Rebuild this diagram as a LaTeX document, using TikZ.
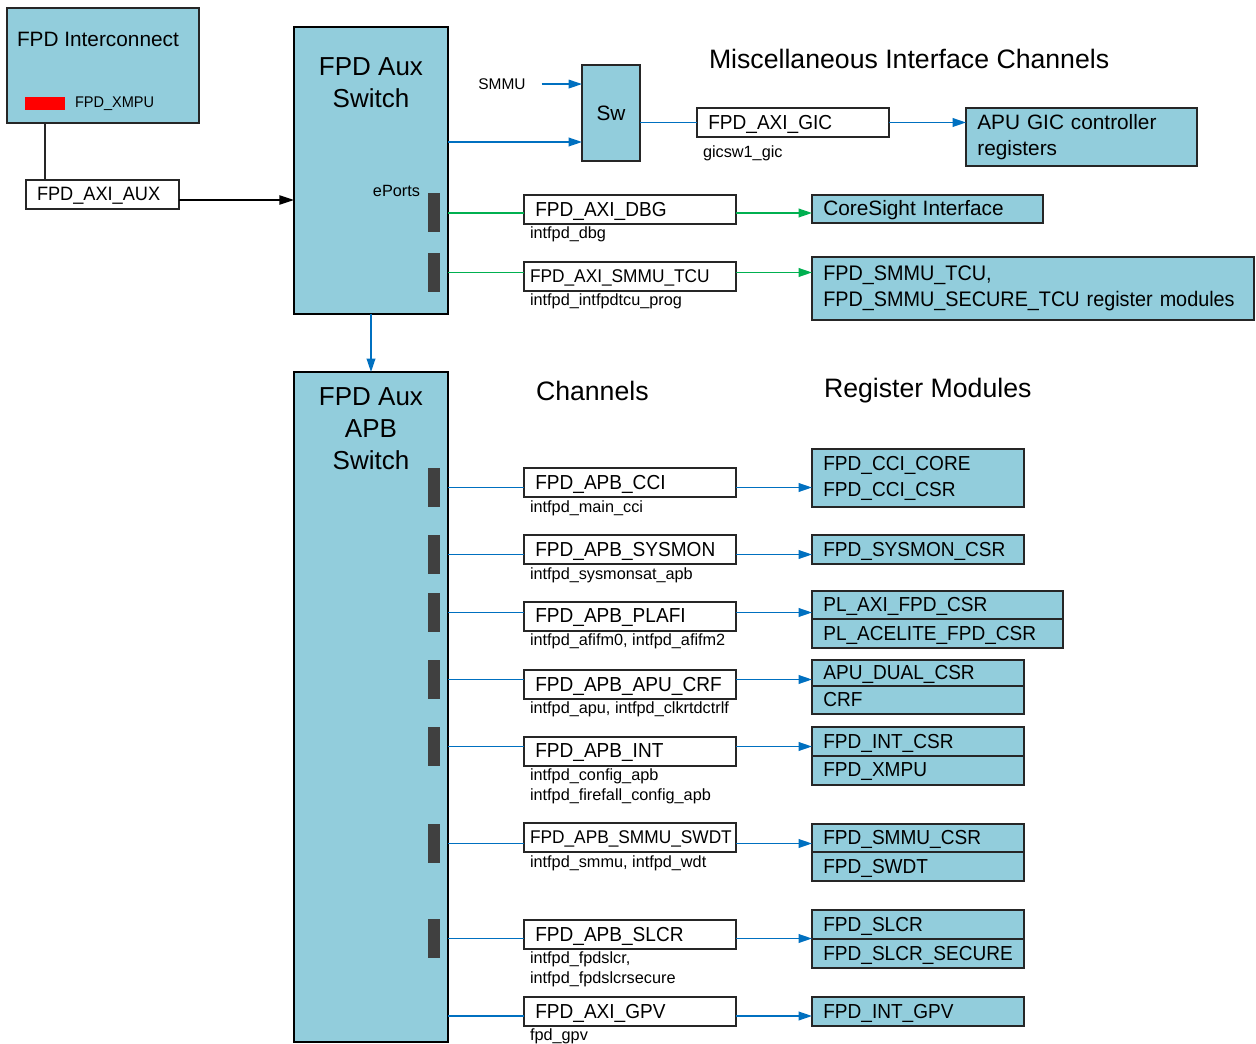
\documentclass[tikz,border=0pt]{standalone}
\usepackage{fontspec}
\setmainfont{Liberation Sans}
\newfontfamily\idfam{Liberation Sans}[FakeStretch=0.94]
\usetikzlibrary{arrows.meta}
\definecolor{lblue}{HTML}{92CDDC}
\definecolor{lineblue}{HTML}{0070C0}
\definecolor{linegreen}{HTML}{00B050}
\definecolor{bardark}{HTML}{404040}
\definecolor{bordc}{HTML}{262626}
\newcommand{\idf}{\idfam\fontsize{15.2}{19.5}\selectfont}
\newcommand{\idsqf}{\idfam\fontsize{13.8}{19.5}\selectfont}
\newcommand{\txtf}{\fontsize{15.6}{19.5}\selectfont}
\newcommand{\smallf}{\fontsize{12.2}{15}\selectfont}
\newcommand{\smallidf}{\idfam\fontsize{11.6}{15}\selectfont}
\newcommand{\bigf}{\fontsize{20}{24}\selectfont}
\newcommand{\swf}{\fontsize{19.5}{24}\selectfont}
\begin{document}
\begin{tikzpicture}[x=0.75pt,y=-0.75pt,
  every node/.style={inner sep=0pt, outer sep=0pt},
  wbox/.style={draw=bordc, line width=1pt, fill=white, anchor=north west, font=\idf, align=left, inner xsep=8.5pt, text width=142pt, minimum height=21.75pt, text depth=0.8pt},
  rboxm/.style={draw=bordc, line width=1pt, fill=lblue, anchor=north west, font=\idf, align=left, inner xsep=8.5pt, text width=142pt},
  rbox/.style={rboxm, text depth=0.8pt},
  switchbox/.style={draw=black, line width=2.2pt, fill=lblue, anchor=north west, minimum width=115.5pt},
  portbar/.style={fill=bardark, minimum width=9pt, minimum height=29.25pt},
  sublabel/.style={font=\smallf, anchor=west, align=left, yshift=-0.8pt},
  title/.style={font=\bigf, anchor=west},
  bl/.style={draw=lineblue, line width=1.1pt},
  gr/.style={draw=linegreen, line width=1.1pt},
  barr/.style={bl, -{Triangle[length=10pt,width=6.5pt]}},
  garr/.style={gr, -{Triangle[length=10pt,width=6.5pt]}},
  karr/.style={draw=black, line width=1pt, -{Triangle[length=11pt,width=7pt]}}
]
\useasboundingbox (0,0) rectangle (1256,1044);

% ---- FPD Interconnect ----
\node[draw=bordc, line width=1pt, fill=lblue, anchor=north west, minimum width=144pt, minimum height=86.25pt] (ic) at (7,8) {};
\node[font=\txtf, anchor=west] (ictxt) at (17,39) {FPD Interconnect};
\node[fill=red, anchor=north west, minimum width=30pt, minimum height=9.75pt] (xmpured) at (25,97) {};
\node[sublabel, font=\smallidf] (xmputxt) at (75,103) {FPD\_XMPU};

\node[draw=bordc, line width=1pt, fill=white, anchor=north west, text width=98.25pt, inner xsep=8.25pt, align=left, minimum height=21.75pt, text depth=0.8pt, font=\idfam\fontsize{14.5}{19.5}\selectfont] (aux) at (26,180) {FPD\_AXI\_AUX};
\coordinate (auxl) at (45,180);
\draw[draw=bordc, line width=1pt] (ic.south -| auxl) -- (auxl);

% ---- FPD Aux Switch ----
\node[switchbox, minimum height=215.25pt] (as) at (294,27) {};
\node[font=\swf, align=center] (astxt) at (371,83) {FPD Aux\\Switch};
\node[sublabel, anchor=east] (eports) at (420,190) {ePorts};
\node[portbar] (p1) at (434,213) {};
\node[portbar] (p2) at (434,272.5) {};
\coordinate (yaux) at (0,200);
\draw[karr] (aux.east |- yaux) -- (as.west |- yaux);

% ---- Sw / GIC ----
\node[draw=bordc, line width=1pt, fill=lblue, anchor=north west, minimum width=43.5pt, minimum height=72pt, font=\txtf] (swb) at (582,65) {Sw};
\node[sublabel, anchor=center, font=\fontsize{11.6}{15}\selectfont] (smmu) at (502,83) {SMMU};
\draw[barr] ([xshift=12pt]smmu.east) -- (smmu.east -| swb.west);
\coordinate (ysw) at (0,142);
\draw[barr] (as.east |- ysw) -- (swb.west |- ysw);

\node[wbox, text width=127pt] (gic) at (697,108) {FPD\_AXI\_GIC};
\node[sublabel] (gicl) at (703,152) {gicsw1\_gic};
\draw[bl] (swb.east |- gic.west) -- (gic.west);
\node[rboxm, font=\txtf, text width=156.25pt, minimum height=43.5pt] (apugic) at (966,108) {APU GIC controller\\registers};
\draw[barr] (gic.east) -- (gic.east -| apugic.west);

\node[title] (misc) at (709,59) {Miscellaneous Interface Channels};

% ---- DBG ----
\node[wbox] (dbg) at (524,195) {FPD\_AXI\_DBG};
\node[sublabel] (dbgl) at (530,233) {intfpd\_dbg};
\node[rbox, font=\txtf, text width=156.25pt, minimum height=21pt] (cs) at (812,195) {CoreSight Interface};
\draw[gr] (as.east |- p1) -- (p1 -| dbg.west);
\draw[garr] (p1 -| dbg.east) -- (p1 -| cs.west);

% ---- TCU ----
\node[wbox, font=\idsqf, inner xsep=4.5pt, text width=150pt] (tcu) at (524,262) {FPD\_AXI\_SMMU\_TCU};
\node[sublabel] (tcul) at (530,300) {intfpd\_intfpdtcu\_prog};
\node[rboxm, font=\idfam\fontsize{15.8}{19.5}\selectfont, text width=314.5pt, minimum height=47.25pt] (tcur) at (812,257) {FPD\_SMMU\_TCU,\\FPD\_SMMU\_SECURE\_TCU register modules};
\draw[gr] (as.east |- p2) -- (p2 -| tcu.west);
\draw[garr] (p2 -| tcu.east) -- (p2 -| tcur.west);

% ---- FPD Aux APB Switch ----
\node[switchbox, minimum height=502.5pt] (apb) at (294,372) {};
\node[font=\swf, align=center] (apbtxt) at (371,429) {FPD Aux\\APB\\Switch};
\draw[barr] (as.south) -- (apb.north);

\node[title] (chan) at (536,391) {Channels};
\node[title] (regm) at (824,391) {Register Modules};

% Row 1
\node[portbar] (b1) at (434,487.5) {};
\node[wbox] (c1) at (524,468) {FPD\_APB\_CCI};
\node[sublabel] (l1) at (530,507) {intfpd\_main\_cci};
\node[rboxm, minimum height=43.5pt] (r1) at (812,449) {FPD\_CCI\_CORE\\FPD\_CCI\_CSR};
\draw[bl] (apb.east |- b1) -- (b1 -| c1.west);
\draw[barr] (b1 -| c1.east) -- (b1 -| r1.west);

% Row 2
\node[portbar] (b2) at (434,554.5) {};
\node[wbox] (c2) at (524,535) {FPD\_APB\_SYSMON};
\node[sublabel] (l2) at (530,574) {intfpd\_sysmonsat\_apb};
\node[rbox, minimum height=21.75pt] (r2) at (812,535) {FPD\_SYSMON\_CSR};
\draw[bl] (apb.east |- b2) -- (b2 -| c2.west);
\draw[barr] (b2 -| c2.east) -- (b2 -| r2.west);

% Row 3
\node[portbar] (b3) at (434,612.5) {};
\node[wbox] (c3) at (524,602) {FPD\_APB\_PLAFI};
\node[sublabel] (l3) at (530,640) {intfpd\_afifm0, intfpd\_afifm2};
\node[rbox, text width=171.25pt, minimum height=21pt] (r3a) at (812,591) {PL\_AXI\_FPD\_CSR};
\node[rbox, text width=171.25pt, minimum height=21.75pt] (r3b) at (812,619) {PL\_ACELITE\_FPD\_CSR};
\draw[bl] (apb.east |- b3) -- (b3 -| c3.west);
\draw[barr] (b3 -| c3.east) -- (b3 -| r3a.west);

% Row 4
\node[portbar] (b4) at (434,679.5) {};
\node[wbox] (c4) at (524,670) {FPD\_APB\_APU\_CRF};
\node[sublabel] (l4) at (530,708) {intfpd\_apu, intfpd\_clkrtdctrlf};
\node[rbox, minimum height=19.5pt] (r4a) at (812,660) {APU\_DUAL\_CSR};
\node[rbox, minimum height=21pt] (r4b) at (812,686) {CRF};
\draw[bl] (apb.east |- b4) -- (b4 -| c4.west);
\draw[barr] (b4 -| c4.east) -- (b4 -| r4a.west);

% Row 5
\node[portbar] (b5) at (434,746.5) {};
\node[wbox] (c5) at (524,737) {FPD\_APB\_INT};
\node[sublabel] (l5) at (530,785) {intfpd\_config\_apb\\intfpd\_firefall\_config\_apb};
\node[rbox, minimum height=21.75pt] (r5a) at (812,727) {FPD\_INT\_CSR};
\node[rbox, minimum height=21.75pt] (r5b) at (812,756) {FPD\_XMPU};
\draw[bl] (apb.east |- b5) -- (b5 -| c5.west);
\draw[barr] (b5 -| c5.east) -- (b5 -| r5a.west);

% Row 6
\node[portbar] (b6) at (434,843.5) {};
\node[wbox, font=\idsqf, inner xsep=4.5pt, text width=150pt] (c6) at (524,823) {FPD\_APB\_SMMU\_SWDT};
\node[sublabel] (l6) at (530,862) {intfpd\_smmu, intfpd\_wdt};
\node[rbox, minimum height=21pt] (r6a) at (812,824) {FPD\_SMMU\_CSR};
\node[rbox, minimum height=21.75pt] (r6b) at (812,852) {FPD\_SWDT};
\draw[bl] (apb.east |- b6) -- (b6 -| c6.west);
\draw[barr] (b6 -| c6.east) -- (b6 -| r6a.west);

% Row 7
\node[portbar] (b7) at (434,938.5) {};
\node[wbox] (c7) at (524,920) {FPD\_APB\_SLCR};
\node[sublabel] (l7) at (530,968.5) {intfpd\_fpdslcr,\\intfpd\_fpdslcrsecure};
\node[rbox, minimum height=21.75pt] (r7a) at (812,910) {FPD\_SLCR};
\node[rbox, minimum height=21.75pt] (r7b) at (812,939) {FPD\_SLCR\_SECURE};
\draw[bl] (apb.east |- b7) -- (b7 -| c7.west);
\draw[barr] (b7 -| c7.east) -- (b7 -| r7a.west);

% Row 8
\coordinate (y8) at (0,1016);
\node[wbox] (c8) at (524,997) {FPD\_AXI\_GPV};
\node[sublabel] (l8) at (530,1035) {fpd\_gpv};
\node[rbox, minimum height=21.75pt] (r8) at (812,997) {FPD\_INT\_GPV};
\draw[bl] (apb.east |- y8) -- (y8 -| c8.west);
\draw[barr] (y8 -| c8.east) -- (y8 -| r8.west);
\end{tikzpicture}
\end{document}
